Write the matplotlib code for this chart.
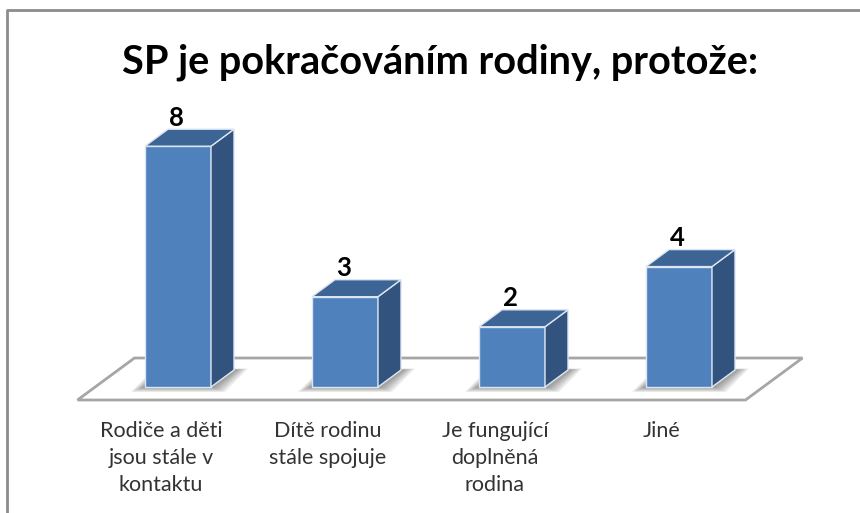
import matplotlib.pyplot as plt
from matplotlib.patches import Polygon

categories = ['Rodiče a děti\njsou stále v\nkontaktu',
              'Dítě rodinu\nstále spojuje',
              'Je fungující\ndoplněná\nrodina',
              'Jiné']
values = [8, 3, 2, 4]
title = 'SP je pokračováním rodiny, protože:'

plt.rcParams['font.family'] = ['Lato', 'DejaVu Sans']

W, H = 860, 513
fig = plt.figure(figsize=(W / 100, H / 100), dpi=100)
ax = fig.add_axes([0, 0, 1, 1])

# pixel -> data scale (1 category = 167 px, 1 unit = 30.1 px)
px_x, px_y = 167.0, 30.1
x0_px, y0_px = 161.0, 387.0
ax.set_xlim(-x0_px / px_x, (W - x0_px) / px_x)
ax.set_ylim((y0_px - H) / px_y, y0_px / px_y)
ax.axis('off')

# 3D offsets
fdx, fdy = 57 / px_x, 42 / px_y      # floor depth
bdx, bdy = 23 / px_x, 17 / px_y      # bar depth
bw = 66 / px_x                       # bar front width
floor_y = -13 / px_y
n = len(values)

# floor
floor = Polygon([(-0.5, floor_y), (n - 0.5, floor_y),
                 (n - 0.5 + fdx, floor_y + fdy), (-0.5 + fdx, floor_y + fdy)],
                closed=True, facecolor='white', edgecolor='#a6a6a6', lw=2, zorder=1)
ax.add_patch(floor)

front_c = '#4f81bd'
side_c = '#33537f'
top_c = '#3c6595'

for i, v in enumerate(values):
    cx = i + (fdx - bdx) / 2
    x1, x2 = cx - bw / 2, cx + bw / 2
    # soft shadow on floor around the footprint
    for k in range(6):
        gx = (14 - 2 * k) / px_x
        gy = (5 - 0.8 * k) / px_y
        sh = Polygon([(x1 - gx, -gy), (x2 + gx, -gy),
                      (x2 + bdx + gx, bdy + gy * 0.3), (x1 + bdx - gx, bdy + gy * 0.3)],
                     closed=True, facecolor='black', alpha=0.07, lw=0, zorder=2)
        ax.add_patch(sh)
    front = Polygon([(x1, 0), (x2, 0), (x2, v), (x1, v)], closed=True,
                    facecolor=front_c, edgecolor='#dce6f2', lw=1, zorder=3)
    side = Polygon([(x2, 0), (x2 + bdx, bdy), (x2 + bdx, v + bdy), (x2, v)], closed=True,
                   facecolor=side_c, edgecolor='#dce6f2', lw=1, zorder=3)
    top = Polygon([(x1, v), (x2, v), (x2 + bdx, v + bdy), (x1 + bdx, v + bdy)], closed=True,
                  facecolor=top_c, edgecolor='#dce6f2', lw=1, zorder=3)
    for p in (front, side, top):
        ax.add_patch(p)
    ax.text(cx - 0.01, v + bdy - 0.02, str(v), ha='center', va='bottom',
            fontsize=18.5, fontweight='bold', color='black', zorder=4)
    ax.text(i, (y0_px - 421) / px_y, categories[i], ha='center', va='top',
            fontsize=15.5, color='#333333', linespacing=1.45, zorder=4)

ax.text(0.512, 1 - 62 / H, title, transform=ax.transAxes, ha='center', va='center',
        fontsize=28.5, fontweight='bold', color='black')

# chart border
ax.plot([7 / W, 7 / W, 1.0], [0.0, 1 - 10 / H, 1 - 10 / H], transform=ax.transAxes,
        color='#8c8c8c', lw=2, clip_on=False)

fig.savefig('out.png', dpi=100)
